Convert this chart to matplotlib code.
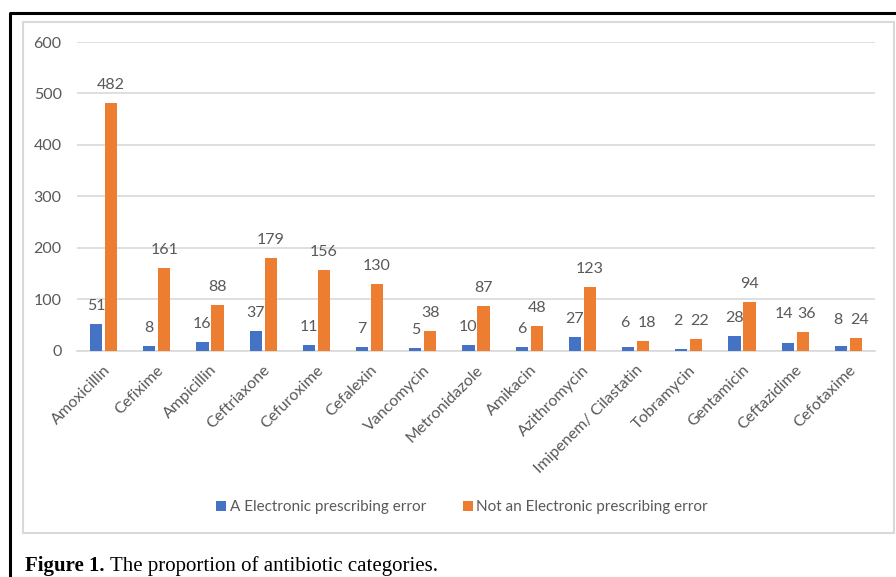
import numpy as np
import matplotlib.pyplot as plt
from matplotlib.lines import Line2D
from matplotlib.patches import Rectangle

drugs = ['Amoxicillin', 'Cefixime', 'Ampicillin', 'Ceftriaxone', 'Cefuroxime',
         'Cefalexin', 'Vancomycin', 'Metronidazole', 'Amikacin', 'Azithromycin',
         'Imipenem/ Cilastatin', 'Tobramycin', 'Gentamicin', 'Ceftazidime', 'Cefotaxime']
eps_error = [51, 8, 16, 37, 11, 7, 5, 10, 6, 27, 6, 2, 28, 14, 8]
not_error = [482, 161, 88, 179, 156, 130, 38, 87, 48, 123, 18, 22, 94, 36, 24]
series_names = ['A Electronic prescribing error', 'Not an Electronic prescribing error']
yticks = [0, 100, 200, 300, 400, 500, 600]

BLUE = '#4472C4'
ORANGE = '#ED7D31'
TXT = '#595959'
GRID = '#D9D9D9'
W, H = 896, 577

plt.rcParams['font.family'] = ['Lato', 'DejaVu Sans']

fig = plt.figure(figsize=(W / 100, H / 100), dpi=100)
ax = fig.add_axes([77 / W, 1 - 350.5 / H, (875 - 77) / W, (350.5 - 42) / H])

x = np.arange(len(drugs))
bw = 0.226
off = 0.141
b1 = ax.bar(x - off, eps_error, bw, color=BLUE, label=series_names[0], zorder=3)
b2 = ax.bar(x + off, not_error, bw, color=ORANGE, label=series_names[1], zorder=3)

# value labels; when the pair is close in height the blue label is lifted
# to the orange one and both are nudged apart
for i in range(len(drugs)):
    yb = eps_error[i]
    dx = 0
    if not_error[i] - eps_error[i] < 25:
        yb = not_error[i]
        dx = 2.5
    ax.annotate(str(eps_error[i]), (x[i] - off, yb), xytext=(-dx, 13), textcoords='offset points',
                ha='center', va='center', fontsize=11.5, color=TXT)
    ax.annotate(str(not_error[i]), (x[i] + off, not_error[i]), xytext=(dx, 13), textcoords='offset points',
                ha='center', va='center', fontsize=11.5, color=TXT)

ax.set_xlim(-0.5, len(drugs) - 0.5)
ax.set_ylim(0, 600)
ax.set_yticks(yticks)
ax.set_yticklabels([str(v) for v in yticks], fontsize=11.5, color=TXT)
ax.set_xticks(x)
ax.set_xticklabels(drugs, rotation=45, ha='right', rotation_mode='anchor', fontsize=11.5, color=TXT)
ax.tick_params(axis='both', length=0)
ax.tick_params(axis='y', pad=11)
ax.tick_params(axis='x', pad=9)
ax.yaxis.grid(True, color=GRID, linewidth=1.2, zorder=0)
for s in ['top', 'right', 'left']:
    ax.spines[s].set_visible(False)
ax.spines['bottom'].set_color(GRID)
ax.spines['bottom'].set_linewidth(1.2)

fig.legend(handles=[b1, b2], labels=series_names, loc='center', bbox_to_anchor=(462 / W, 1 - 507 / H),
           ncol=2, frameon=False, fontsize=11, labelcolor=TXT, handlelength=0.65, handleheight=0.65,
           handletextpad=0.25, columnspacing=2.4)

# chart frame and outer box
fig.patches.append(Rectangle((23 / W, 1 - 533 / H), (894 - 23) / W, (533 - 22) / H,
                             transform=fig.transFigure, fill=False, edgecolor=GRID, linewidth=1.5))
fig.lines.append(Line2D([10 / W, 10 / W, 1.0], [0.0, 1 - 13 / H, 1 - 13 / H],
                        transform=fig.transFigure, color='black', linewidth=2.2))

cap1 = fig.text(25 / W, 1 - 571 / H, 'Figure 1.', family='Liberation Serif', fontweight='bold',
                fontsize=15, va='baseline', ha='left', color='black')
r = fig.canvas.get_renderer()
bb = cap1.get_window_extent(renderer=r)
fig.text(bb.x1 / W + 5 / W, 1 - 571 / H, 'The proportion of antibiotic categories.',
         family='Liberation Serif', fontsize=15, va='baseline', ha='left', color='black')

fig.savefig('out.png', dpi=100, facecolor='white')
